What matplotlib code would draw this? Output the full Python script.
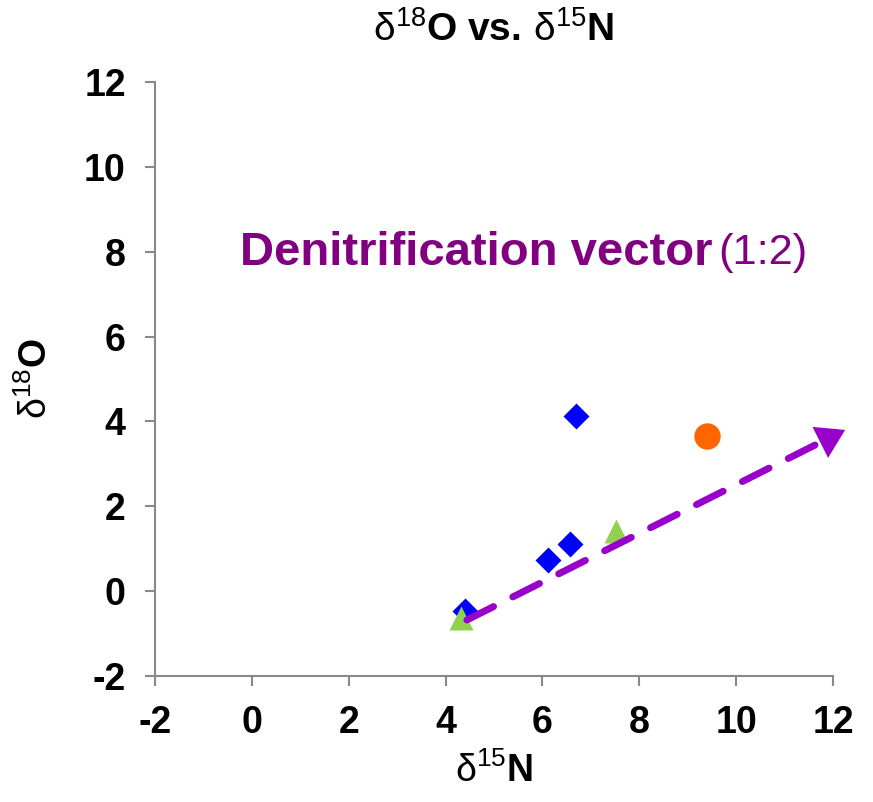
import numpy as np
import matplotlib
matplotlib.use("Agg")
import matplotlib.pyplot as plt
from matplotlib import font_manager

# donnees
ticks = [-2, 0, 2, 4, 6, 8, 10, 12]
diam_x = [4.40, 6.11, 6.57, 6.69]
diam_y = [-0.47, 0.73, 1.11, 4.13]
circ_x = [9.40]
circ_y = [3.66]
tri_x = [4.32, 7.52]
tri_y = [-0.64, 1.42]
vec_x = [4.44, 12.25]   # vecteur de denitrification (debut, pointe)
vec_y = [-0.68, 3.80]

plt.rcParams['font.family'] = ['Liberation Sans', 'DejaVu Sans']
plt.rcParams['mathtext.fontset'] = 'custom'
plt.rcParams['mathtext.rm'] = 'Liberation Sans'
plt.rcParams['mathtext.bf'] = 'Liberation Sans:bold'
plt.rcParams['mathtext.it'] = 'Liberation Sans:italic'

noms = {f.name for f in font_manager.fontManager.ttflist}
narrow = 'Liberation Sans Narrow' in noms

gris = '#898989'
violet = '#9900CC'
violet_txt = '#800080'

fig = plt.figure(figsize=(8.73, 8.02), dpi=100)
ax = fig.add_axes([155/873, 1-676/802, 678/873, 594/802])

ax.plot(diam_x, diam_y, 'D', color='#0000FF', ms=13, mec='none', zorder=3)
ax.plot(circ_x, circ_y, 'o', color='#FF6600', ms=19, mec='none', zorder=3)
ax.plot(tri_x, tri_y, '^', color='#92D050', ms=17, mec='none', zorder=4)

# corps pointille puis tete pleine
ax.annotate('', xy=(vec_x[1], vec_y[1]), xytext=(vec_x[0], vec_y[0]),
            arrowprops=dict(arrowstyle='-', color=violet, lw=5,
                            linestyle=(0, (4.3, 3.1)), shrinkA=0, shrinkB=18),
            annotation_clip=False, zorder=5)
ang = np.arctan2(190, 378)
ax.annotate('', xy=(vec_x[1], vec_y[1]), xytext=(-21*np.cos(ang), -21*np.sin(ang)),
            textcoords='offset points',
            arrowprops=dict(arrowstyle='-|>,head_length=0.4,head_width=0.25',
                            mutation_scale=50, color=violet, lw=0,
                            shrinkA=0, shrinkB=0),
            annotation_clip=False, zorder=5)

if narrow:
    fam, taille = ['Liberation Sans Narrow', 'Liberation Sans'], 41
else:
    fam, taille = ['Liberation Sans'], 34
t1 = ax.text(-0.25, 7.97, 'Denitrification vector', color=violet_txt,
             fontsize=taille, fontweight='bold', family=fam, va='center', ha='left')
ax.annotate('(1:2)', xy=(1, 0.5), xycoords=t1, xytext=(4, 0), textcoords='offset points',
            color=violet_txt, fontsize=taille*0.92, family=fam, va='center', ha='left')

ax.set_xlim(-2, 12)
ax.set_ylim(-2, 12)
ax.set_xticks(ticks)
ax.set_yticks(ticks)
ax.set_xticklabels([str(t) for t in ticks])
ax.set_yticklabels([str(t) for t in ticks])
for lab in ax.get_xticklabels() + ax.get_yticklabels():
    lab.set_fontweight('bold')
    lab.set_fontsize(27)
ax.tick_params(axis='both', direction='out', length=7, width=1.5, color=gris)
ax.tick_params(axis='x', pad=14)
ax.tick_params(axis='y', pad=14)
for s in ['top', 'right']:
    ax.spines[s].set_visible(False)
for s in ['left', 'bottom']:
    ax.spines[s].set_color(gris)
    ax.spines[s].set_linewidth(1.5)

ax.set_xlabel(r'$\mathrm{\delta}^{\mathrm{15}}\mathbf{N}$', fontsize=27)
ax.xaxis.set_label_coords(0.5, -0.128)
ax.set_ylabel(r'$\mathrm{\delta}^{\mathrm{18}}\mathbf{O}$', fontsize=27)
ax.yaxis.set_label_coords(-0.147, 0.50)

fig.text(494/873, 1-30/802, r'$\mathrm{\delta}^{\mathrm{18}}\mathbf{O\ vs.}\,\mathrm{\delta}^{\mathrm{15}}\mathbf{N}$',
         fontsize=28, ha='center', va='center')

fig.savefig('out.png', dpi=100)
